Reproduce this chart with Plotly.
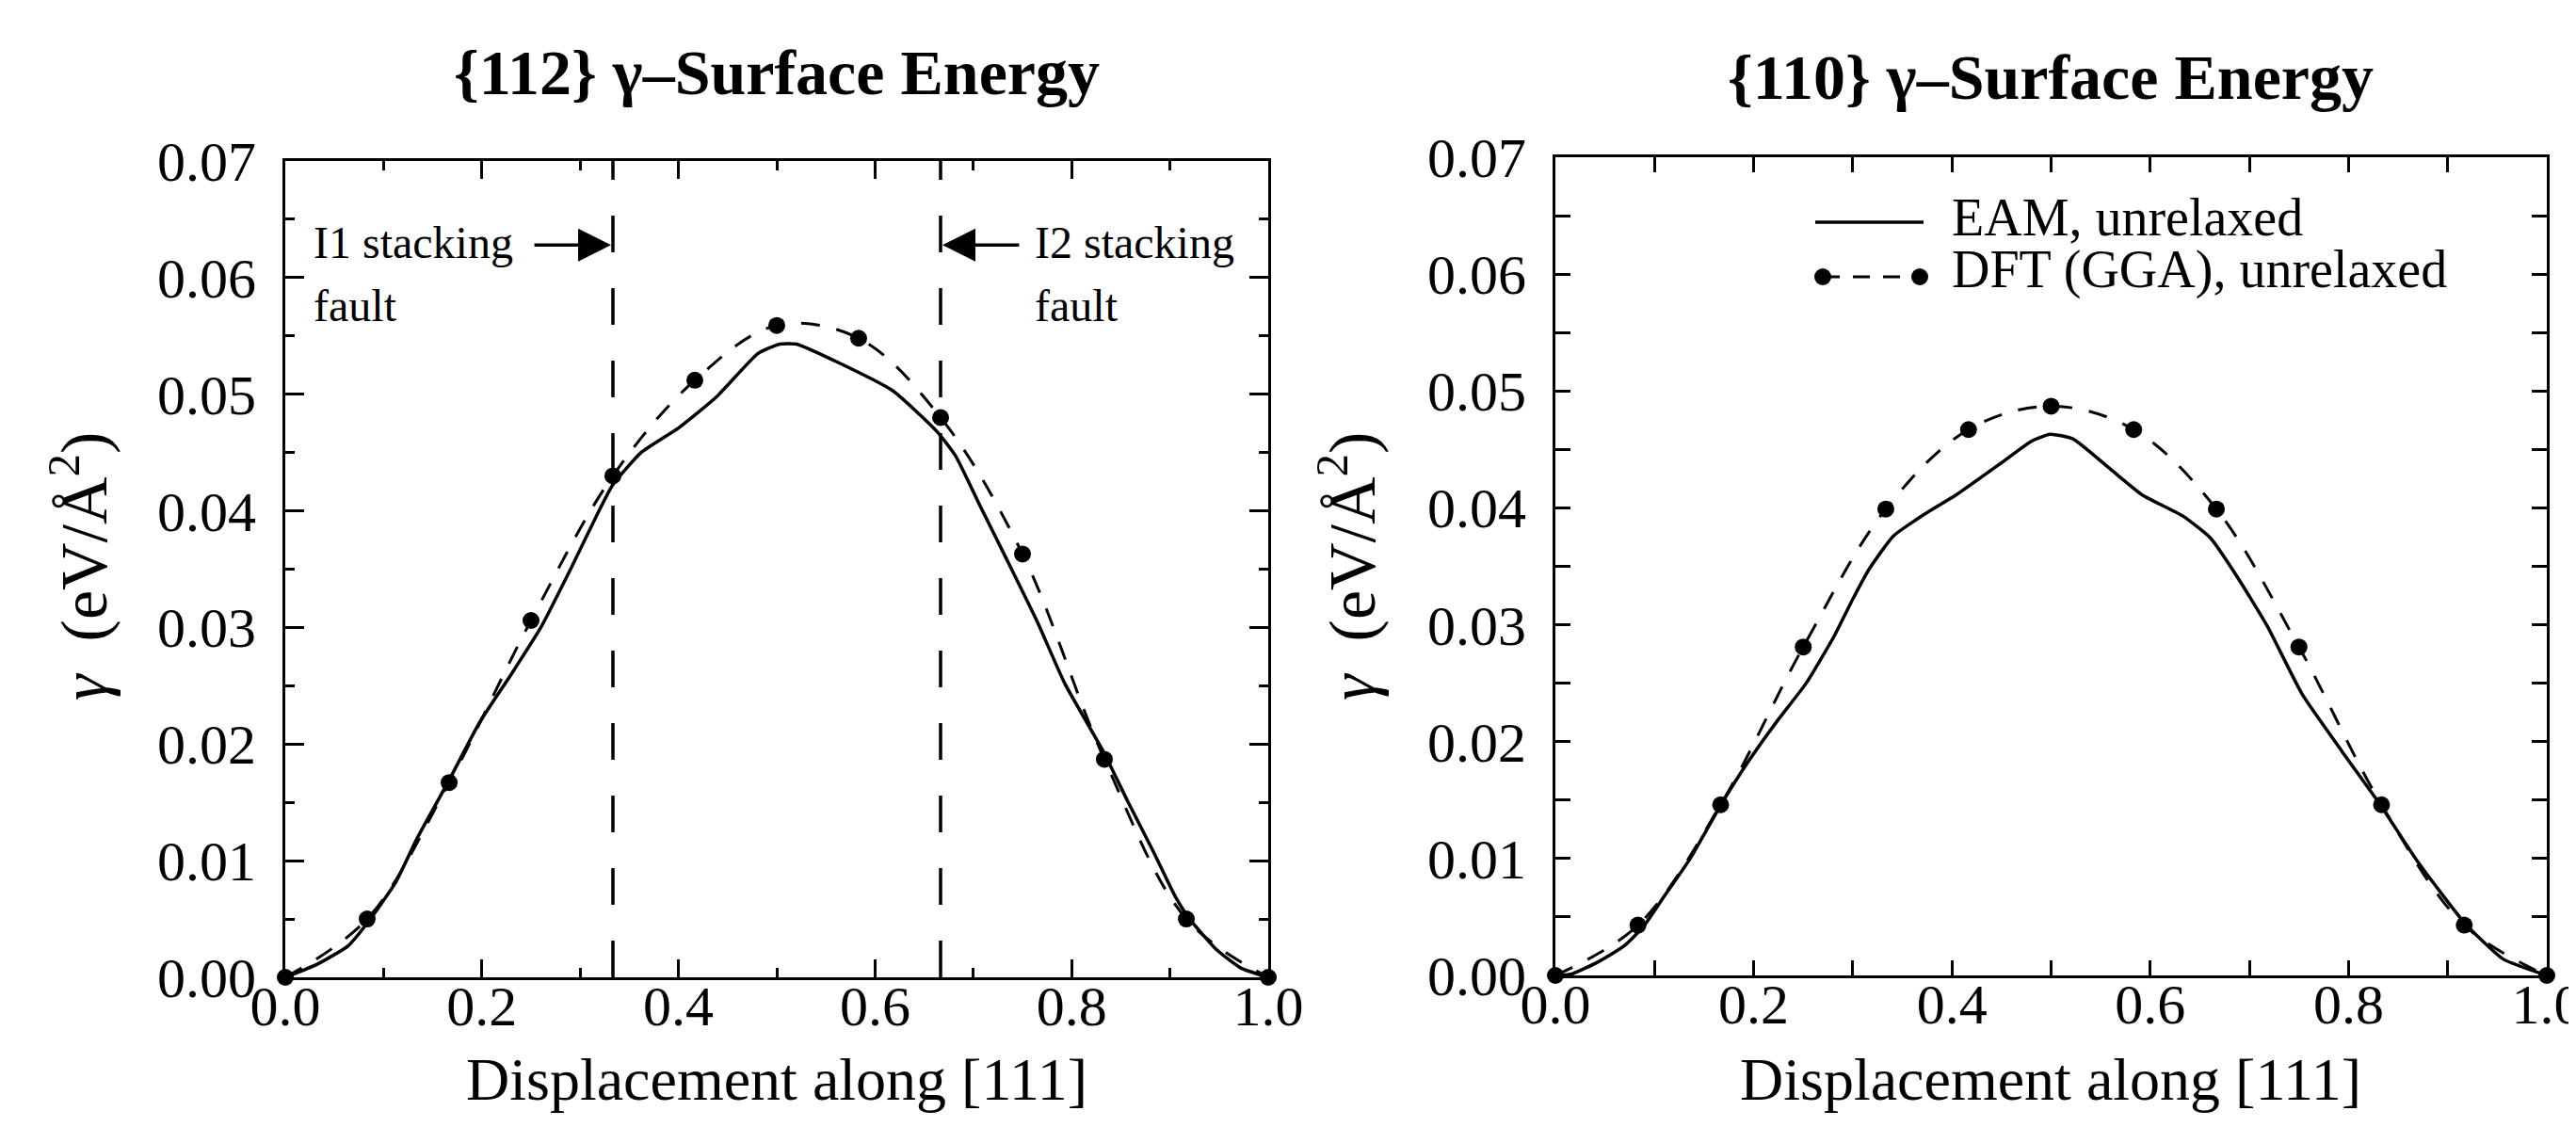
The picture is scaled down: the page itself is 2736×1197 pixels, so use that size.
import plotly.graph_objects as go

# ---------------- data ----------------
disp_dft = [0.0, 0.0833, 0.1667, 0.25, 0.3333, 0.4167, 0.5, 0.5833, 0.6667, 0.75, 0.8333, 0.9167, 1.0]
gamma112_dft = [0.0, 0.0050, 0.0167, 0.0306, 0.0430, 0.0512, 0.0559, 0.0548, 0.0480, 0.0363, 0.0187, 0.0050, 0.0]
gamma110_dft = [0.0, 0.0043, 0.0146, 0.0281, 0.0399, 0.0467, 0.0487, 0.0467, 0.0399, 0.0281, 0.0146, 0.0043, 0.0]

disp112_eam = [0.0, 0.032, 0.064, 0.083, 0.112, 0.134, 0.166, 0.198, 0.230, 0.260, 0.292, 0.318,
               0.333, 0.362, 0.400, 0.439, 0.481, 0.503, 0.520, 0.563, 0.618, 0.663, 0.682, 0.707,
               0.733, 0.765, 0.793, 0.832, 0.857, 0.883, 0.905, 0.920, 0.947, 0.972, 1.0]
gamma112_eam = [0.0, 0.0011, 0.0027, 0.0046, 0.0081, 0.0119, 0.0168, 0.0219, 0.0260, 0.0300, 0.0353, 0.0398,
                0.0422, 0.0450, 0.0471, 0.0498, 0.0535, 0.0543, 0.0543, 0.0527, 0.0503, 0.0468, 0.0447, 0.0404,
                0.0360, 0.0305, 0.0252, 0.0194, 0.0151, 0.0108, 0.0070, 0.0050, 0.0024, 0.0008, 0.0]

disp110_eam = [0.0, 0.016, 0.044, 0.069, 0.088, 0.110, 0.136, 0.167, 0.193, 0.224, 0.253, 0.281,
               0.300, 0.316, 0.341, 0.373, 0.404, 0.449, 0.480, 0.499, 0.522, 0.560, 0.592, 0.633,
               0.661, 0.687, 0.718, 0.753, 0.794, 0.832, 0.870, 0.918, 0.956, 1.0]
gamma110_eam = [0.0, 0.0001, 0.0012, 0.0025, 0.0041, 0.0068, 0.0100, 0.0146, 0.0181, 0.0218, 0.0250, 0.0290,
                0.0322, 0.0347, 0.0376, 0.0395, 0.0411, 0.0438, 0.0457, 0.0463, 0.0459, 0.0433, 0.0411, 0.0393,
                0.0374, 0.0342, 0.0299, 0.0241, 0.0191, 0.0146, 0.0097, 0.0044, 0.0014, 0.0]

fault_positions = [1 / 3, 2 / 3]
fault_text_x = [0.027, 0.761]
fault_arrow_tail = [0.252, 0.748]
fault_line1 = ["I1 stacking", "I2 stacking"]
fault_line2 = ["fault", "fault"]
fault_text_y = [0.0630, 0.0576]
fault_arrow_y = 0.0628

titles = ["<b>{112} γ–Surface Energy</b>", "<b>{110} γ–Surface Energy</b>"]
x_title = "Displacement along [111]"
y_title = "<i>γ</i>  (eV/Å<sup>2</sup>)"
legend_names = ["EAM, unrelaxed", "DFT (GGA), unrelaxed"]

# ---------------- layout helpers ----------------
W, H = 2736, 1197
SERIF = "Liberation Serif, Times New Roman, serif"


def px(x):
    return x / W


def py(y):
    return 1 - y / H


fig = go.Figure()

# ---------------- traces ----------------
eam_line = dict(color="black", width=3.5, shape="spline", smoothing=0.5)
dft_line = dict(color="black", width=3, dash="20px,18px", shape="spline", smoothing=1.0)
dft_marker = dict(color="black", size=18, symbol="circle")

fig.add_trace(go.Scatter(x=disp112_eam, y=gamma112_eam, mode="lines", line=eam_line,
                         name=legend_names[0], xaxis="x", yaxis="y", cliponaxis=False))
fig.add_trace(go.Scatter(x=disp_dft, y=gamma112_dft, mode="lines+markers", line=dft_line,
                         marker=dft_marker, name=legend_names[1], xaxis="x", yaxis="y",
                         cliponaxis=False))
fig.add_trace(go.Scatter(x=disp110_eam, y=gamma110_eam, mode="lines", line=eam_line,
                         name=legend_names[0], xaxis="x2", yaxis="y2", cliponaxis=False))
fig.add_trace(go.Scatter(x=disp_dft, y=gamma110_dft, mode="lines+markers", line=dft_line,
                         marker=dft_marker, name=legend_names[1], xaxis="x2", yaxis="y2",
                         cliponaxis=False))

# ---------------- axes ----------------
tickfont = dict(family=SERIF, size=60, color="black")


def xaxis(domain, anchor, major_len, minor_len):
    return dict(domain=domain, anchor=anchor, range=[0, 1], tick0=0, dtick=0.2,
                tickformat=".1f", ticks="inside", ticklen=major_len, tickwidth=3,
                tickcolor="black", showline=True, linecolor="black", linewidth=3,
                mirror="ticks", showgrid=False, zeroline=False, tickfont=tickfont,
                ticklabelstandoff=-24,
                minor=dict(dtick=0.1, tick0=0, ticks="inside", ticklen=minor_len,
                           tickwidth=3, tickcolor="black", showgrid=False))


def yaxis(domain, anchor, major_len, minor_len):
    return dict(domain=domain, anchor=anchor, range=[0, 0.07], tick0=0, dtick=0.01,
                tickformat=".2f", ticks="inside", ticklen=major_len, tickwidth=3,
                tickcolor="black", showline=True, linecolor="black", linewidth=3,
                mirror="ticks", showgrid=False, zeroline=False, tickfont=tickfont,
                ticklabelstandoff=16,
                minor=dict(dtick=0.005, tick0=0, ticks="inside", ticklen=minor_len,
                           tickwidth=3, tickcolor="black", showgrid=False))


fig.update_layout(
    width=W, height=H, margin=dict(l=0, r=0, t=0, b=0),
    paper_bgcolor="white", plot_bgcolor="white", showlegend=False, template="none",
    xaxis=xaxis([px(295), px(1339)], "y", 19, 10),
    yaxis=yaxis([py(1030), py(163)], "x", 20, 10),
    xaxis2=xaxis([px(1644), px(2697)], "y2", 16, 16),
    yaxis2=yaxis([py(1028), py(159)], "x2", 16, 16),
)

# ---------------- stacking fault markers (left panel) ----------------
shapes = []
annotations = []
for xf in fault_positions:
    shapes.append(dict(type="line", xref="x", yref="y", x0=xf, x1=xf, y0=0, y1=0.07,
                       line=dict(color="black", width=3.5, dash="39px,38px"), layer="above"))

for i in range(2):
    annotations.append(dict(xref="x", yref="y", x=fault_text_x[i], y=fault_text_y[0],
                            text=fault_line1[i], showarrow=False, xanchor="left",
                            yanchor="middle", font=dict(family=SERIF, size=48, color="black")))
    annotations.append(dict(xref="x", yref="y", x=fault_text_x[i], y=fault_text_y[1],
                            text=fault_line2[i], showarrow=False, xanchor="left",
                            yanchor="middle", font=dict(family=SERIF, size=48, color="black")))
    annotations.append(dict(xref="x", yref="y", x=fault_positions[i], y=fault_arrow_y,
                            axref="x", ayref="y", ax=fault_arrow_tail[i], ay=fault_arrow_y,
                            text="", showarrow=True, arrowhead=2, arrowsize=2.0,
                            arrowwidth=3.5, arrowcolor="black", standoff=2))

# ---------------- titles ----------------
plot_centers = [817, 2170]
title_y = [69, 74]
ytitle_x = [76, 1423]
for i in range(2):
    annotations.append(dict(xref="paper", yref="paper", x=px(plot_centers[i]), y=py(title_y[i]),
                            text=titles[i], showarrow=False, xanchor="center", yanchor="middle",
                            font=dict(family=SERIF, size=68, color="black")))
    annotations.append(dict(xref="paper", yref="paper", x=px(plot_centers[i]), y=py(1138),
                            text=x_title, showarrow=False, xanchor="center", yanchor="middle",
                            font=dict(family=SERIF, size=64, color="black")))
    annotations.append(dict(xref="paper", yref="paper", x=px(ytitle_x[i]), y=py(594),
                            text=y_title, showarrow=False, xanchor="center", yanchor="middle",
                            textangle=-90, font=dict(family=SERIF, size=70, color="black")))

# ---------------- legend (right panel) ----------------
shapes.append(dict(type="line", xref="paper", yref="paper", x0=px(1920), x1=px(2035),
                   y0=py(228), y1=py(228), line=dict(color="black", width=3.5)))
shapes.append(dict(type="line", xref="paper", yref="paper", x0=px(1928), x1=px(2031),
                   y0=py(286), y1=py(286), line=dict(color="black", width=3, dash="18px,14px")))
for cx in (1928, 2031):
    shapes.append(dict(type="circle", xref="paper", yref="paper", x0=px(cx - 9), x1=px(cx + 9),
                       y0=py(286 + 9), y1=py(286 - 9), fillcolor="black",
                       line=dict(color="black", width=0)))
for name, yy in zip(legend_names, [223, 279]):
    annotations.append(dict(xref="paper", yref="paper", x=px(2063), y=py(yy), text=name,
                            showarrow=False, xanchor="left", yanchor="middle",
                            font=dict(family=SERIF, size=56, color="black")))

fig.update_layout(shapes=shapes, annotations=annotations)

fig.write_html("out.html")
